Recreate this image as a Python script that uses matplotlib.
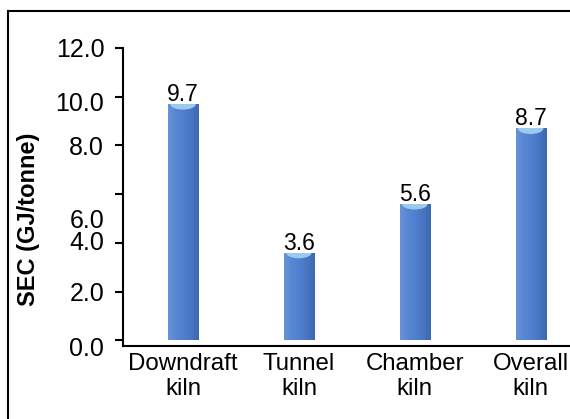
import numpy as np
import matplotlib
matplotlib.use("Agg")
import matplotlib.pyplot as plt
from matplotlib.colors import LinearSegmentedColormap
from matplotlib.patches import Ellipse, Rectangle

plt.rcParams['font.family'] = ['Liberation Sans', 'DejaVu Sans']

# specific energy consumption per kiln type
kilns = ["Downdraft\nkiln", "Tunnel\nkiln", "Chamber\nkiln", "Overall\nkiln"]
sec = [9.7, 3.6, 5.6, 8.7]

# axis ticks and where their labels sit
tick_values = [0, 2, 4, 6, 8, 10, 12]
tick_labels = ["0.0", "2.0", "4.0", "6.0", "8.0", "10.0", "12.0"]
label_values = [-0.23, 2.0, 4.1, 5.0, 8.0, 9.8, 12.0]

fig = plt.figure(figsize=(5.7, 4.19), dpi=100)
ax = fig.add_axes([123 / 570, 1 - 346 / 419, 1 - 123 / 570, (346 - 48) / 419])

x = np.arange(len(kilns))
bar_w = 0.26
bars = ax.bar(x, sec, width=bar_w, color="#4f80cf", zorder=2)

# cylinder-like shading on each bar
shade = LinearSegmentedColormap.from_list(
    "shade", ["#6892d6", "#5787d3", "#4f80cf", "#4776c2", "#3d68b0"])
grad = np.linspace(0, 1, 64).reshape(1, -1)
for b in bars:
    x0, w, h = b.get_x(), b.get_width(), b.get_height()
    im = ax.imshow(grad, extent=[x0, x0 + w, 0, h], aspect="auto",
                   cmap=shade, zorder=3)
    im.set_clip_path(b)
    cap = Ellipse((x0 + w / 2, h), w * 0.8, 0.4, color="#9cc9ee", zorder=4)
    ax.add_patch(cap)
    cap.set_clip_path(b)

for xi, v in zip(x, sec):
    ax.annotate(f"{v:.1f}", (xi, v), xytext=(0, -1.5), textcoords="offset points",
                ha="center", va="bottom", fontsize=16.5)

ax.set_xlim(-0.518, 3.34)
ax.set_ylim(0, 12)

ax.yaxis.remove_overlapping_locs = False
ax.set_yticks(tick_values, labels=[""] * len(tick_values))
ax.set_yticks(label_values, labels=tick_labels, minor=True)
ax.tick_params(axis="y", which="major", length=6.1, width=1.5, direction="out")
ax.tick_params(axis="y", which="minor", length=0, pad=13.5, labelsize=18)

ax.set_xticks(x, labels=kilns)
ax.tick_params(axis="x", length=0, pad=5, labelsize=17.3)

for side in ["top", "right"]:
    ax.spines[side].set_visible(False)
for side in ["left", "bottom"]:
    ax.spines[side].set_linewidth(1.5)

fig.text(29 / 570, 1 - 219 / 419, "SEC (GJ/tonne)", rotation=90,
         ha="center", va="center", fontsize=17, fontweight="bold")

# outer frame
fig.patches.append(Rectangle((7.5 / 570, -0.1), 1.2, 1.1 - 11 / 419,
                             transform=fig.transFigure, fill=False,
                             edgecolor="black", linewidth=1.5))

fig.savefig("out.png", dpi=100)
